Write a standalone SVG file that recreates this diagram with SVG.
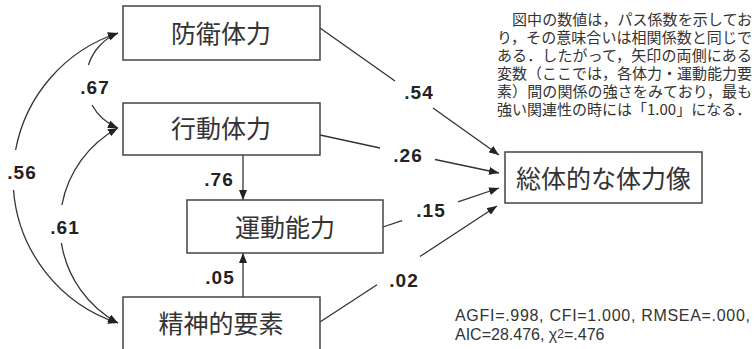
<svg xmlns="http://www.w3.org/2000/svg" width="754" height="349" viewBox="0 0 754 349">
<style>
.box{fill:#fff;stroke:#444;stroke-width:1.5}
.bt{font-family:"Noto Sans CJK JP","Noto Sans CJK SC",sans-serif;font-size:25px;fill:#333;text-anchor:middle}
.ln{fill:none;stroke:#333;stroke-width:1.3}
.num{font-family:"Liberation Sans",Arial,sans-serif;font-weight:bold;font-size:19px;fill:#222;text-anchor:middle;letter-spacing:1px}
.para{font-family:"Noto Sans CJK JP","Noto Sans CJK SC",sans-serif;font-size:15px;fill:#333}
.fit{font-family:"Liberation Sans",Arial,sans-serif;font-size:16px;fill:#333}
</style>
<defs>
<marker id="ah" viewBox="0 0 10 8" refX="10" refY="4" markerWidth="10" markerHeight="8" orient="auto" markerUnits="userSpaceOnUse">
<path d="M0,0 L10,4 L0,8 z" fill="#222"/>
</marker>
</defs>
<rect width="754" height="349" fill="#fff"/>
<g id="connectors">
<path class="ln" marker-end="url(#ah)" d="M320,28 L395,81 M433,108 L499,155"/>
<path class="ln" marker-end="url(#ah)" d="M320,135 L380,148 M435,159.5 L499,173"/>
<path class="ln" marker-end="url(#ah)" d="M383,227 L402,220.6 M458,201.8 L499,188"/>
<path class="ln" marker-end="url(#ah)" d="M320,322 L377,284.7 M420,256.5 L497,206"/>
<path class="ln" marker-end="url(#ah)" d="M243,155 L243,200"/>
<path class="ln" marker-end="url(#ah)" d="M243,297 L243,253"/>
<path class="ln" marker-end="url(#ah)" d="M88.4,65 A51.2,51.2 0 0 1 118,33"/>
<path class="ln" marker-end="url(#ah)" d="M92,105 A51.2,51.2 0 0 0 118,128"/>
<path class="ln" marker-end="url(#ah)" d="M15.6,150 A152.6,152.6 0 0 1 118,33"/>
<path class="ln" marker-end="url(#ah)" d="M13.5,190 A152.6,152.6 0 0 0 118,323"/>
<path class="ln" marker-end="url(#ah)" d="M61.9,205 A110.9,110.9 0 0 1 118,128"/>
<path class="ln" marker-end="url(#ah)" d="M61.4,243 A110.9,110.9 0 0 0 118,323"/>
<text class="num" x="95" y="94">.67</text>
<text class="num" x="22" y="179">.56</text>
<text class="num" x="65" y="234">.61</text>
<text class="num" x="219" y="186">.76</text>
<text class="num" x="220" y="284">.05</text>
<text class="num" x="419" y="99">.54</text>
<text class="num" x="408" y="162">.26</text>
<text class="num" x="431" y="217">.15</text>
<text class="num" x="404" y="287">.02</text>
</g>
<g id="n-bouei"><rect class="box" x="123" y="6" width="197" height="54"/><text class="bt" x="221" y="43">防衛体力</text></g>
<g id="n-koudou"><rect class="box" x="123" y="103" width="197" height="52"/><text class="bt" x="221" y="138">行動体力</text></g>
<g id="n-undou"><rect class="box" x="187" y="200" width="196" height="53"/><text class="bt" x="285" y="237">運動能力</text></g>
<g id="n-seishin"><rect class="box" x="123" y="297" width="197" height="56"/><text class="bt" x="221" y="333">精神的要素</text></g>
<g id="n-soutai"><rect class="box" x="505" y="152" width="197" height="51"/><text class="bt" x="603.5" y="188">総体的な体力像</text></g>
<g id="note">
<text class="para" x="497" y="24.5" textLength="255" lengthAdjust="spacing">　図中の数値は，パス係数を示してお</text>
<text class="para" x="497" y="42.5" textLength="255" lengthAdjust="spacing">り，その意味合いは相関係数と同じで</text>
<text class="para" x="497" y="60.5" textLength="255" lengthAdjust="spacing">ある．したがって，矢印の両側にある</text>
<text class="para" x="497" y="78.5" textLength="255" lengthAdjust="spacing">変数（ここでは，各体力・運動能力要</text>
<text class="para" x="497" y="96.5" textLength="255" lengthAdjust="spacing">素）間の関係の強さをみており，最も</text>
<text class="para" x="497" y="114.5">強い関連性の時には「1.00」になる．</text>
</g>
<g id="fit">
<text class="fit" x="455" y="321" textLength="295" lengthAdjust="spacing">AGFI=.998, CFI=1.000, RMSEA=.000,</text>
<text class="fit" x="455" y="340">AIC=28.476, χ<tspan font-size="12" dy="-2">2</tspan><tspan dy="2">=.476</tspan></text>
</g>
</svg>
